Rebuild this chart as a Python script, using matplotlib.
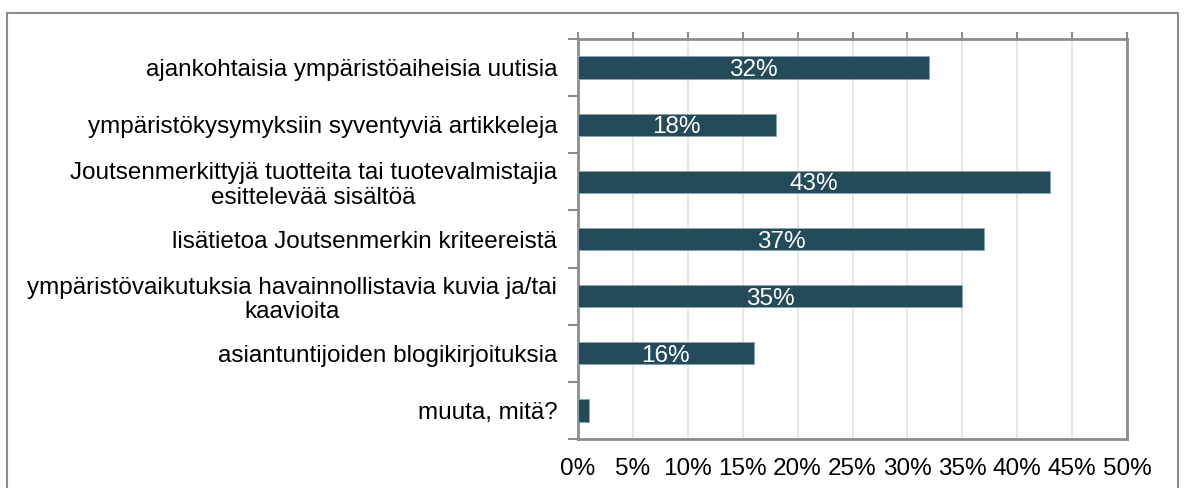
import matplotlib.pyplot as plt
import matplotlib.patches as mpatches
import numpy as np
from matplotlib.ticker import FuncFormatter

plt.rcParams['font.family'] = ['Liberation Sans', 'DejaVu Sans']

categories = [
    'ajankohtaisia ympäristöaiheisia uutisia',
    'ympäristökysymyksiin syventyviä artikkeleja',
    'Joutsenmerkittyjä tuotteita tai tuotevalmistajia\nesittelevää sisältöä',
    'lisätietoa Joutsenmerkin kriteereistä',
    'ympäristövaikutuksia havainnollistavia kuvia ja/tai\nkaavioita',
    'asiantuntijoiden blogikirjoituksia',
    'muuta, mitä?',
]
values = [32, 18, 43, 37, 35, 16, 1]
x_ticks = [0, 5, 10, 15, 20, 25, 30, 35, 40, 45, 50]

bar_color = '#234b5a'
spine_color = '#8c8c8c'

fig = plt.figure(figsize=(11.84, 4.88), dpi=100)
ax = fig.add_axes([578 / 1184, 1 - 439 / 488, (1127 - 578) / 1184, (439 - 39) / 488])

# outer chart frame
frame = mpatches.Rectangle((7 / 1184, -0.1), (1178 - 7) / 1184, 1.1 - 13 / 488,
                           transform=fig.transFigure, fill=False,
                           edgecolor=spine_color, linewidth=1.5, clip_on=False)
fig.patches.append(frame)

y = np.arange(len(categories))
bars = ax.barh(y, values, height=0.39, color=bar_color, edgecolor='#8aa3ad',
               linewidth=0.6, zorder=3)

for b, v in zip(bars, values):
    if v >= 5:
        ax.text(v / 2, b.get_y() + b.get_height() / 2, f'{v}%', color='white',
                ha='center', va='center_baseline', fontsize=17.5, zorder=4)

ax.set_xlim(0, 50)
ax.set_ylim(len(categories) - 0.5, -0.5)
ax.set_xticks(x_ticks)
ax.xaxis.set_major_formatter(FuncFormatter(lambda v, p: f'{v:.0f}%'))
ax.tick_params(axis='x', top=True, bottom=False, labelbottom=True,
               direction='out', length=5, width=1.5, color=spine_color,
               labelsize=17.5, pad=9)
ax.grid(axis='x', color='#e3e3e3', linewidth=1.2, zorder=0)

ax.set_yticks(y)
ax.set_yticklabels(categories, fontsize=17.5, multialignment='center',
                   linespacing=1.15)
ax.set_yticks(np.arange(len(categories) + 1) - 0.5, minor=True)
ax.tick_params(axis='y', which='major', length=0, pad=15)
ax.tick_params(axis='y', which='minor', length=7, width=1.5, color=spine_color,
               direction='out')

for s in ax.spines.values():
    s.set_color(spine_color)
    s.set_linewidth(2)

fig.savefig('out.png', dpi=100)
